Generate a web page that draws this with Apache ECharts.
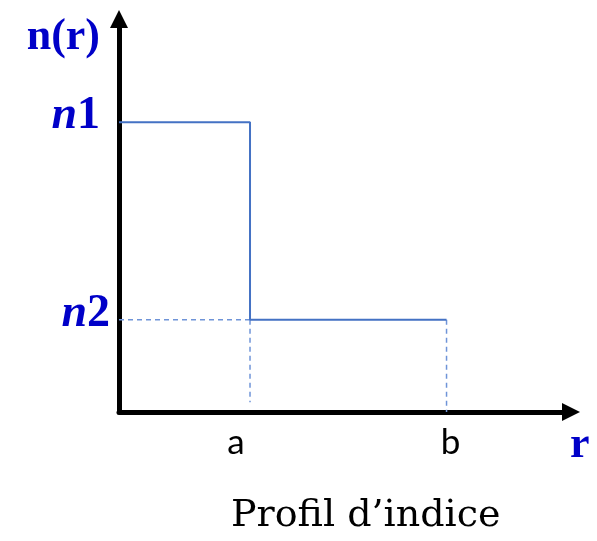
<!DOCTYPE html>
<html>
<head>
<meta charset="utf-8">
<script src="https://cdn.jsdelivr.net/npm/echarts@6/dist/echarts.min.js"></script>
<style>
  html, body { margin: 0; padding: 0; background: #fff; }
  #chart { width: 597px; height: 541px; }
</style>
</head>
<body>
<div id="chart"></div>
<script>
// positions along r (a = core radius, b = cladding radius)
const rTicks = [1, 2.5];
const rLabels = ['a', 'b'];
// index levels
const nTicks = [0.94, 2.95];
const nLabels = ['n2', 'n1'];
// step profile n(r)
const profileR = [0, 1, 1, 2.5];
const profileN = [2.95, 2.95, 0.94, 0.94];
// dashed guide lines
const guideN2R = [0, 1];
const guideN2N = [0.94, 0.94];
const guideAR = [1, 1];
const guideAN = [0.94, 0.1];
const guideBR = [2.5, 2.5];
const guideBN = [0.94, 0];

const zip = (xs, ys) => xs.map((x, i) => [x, ys[i]]);

const blue = '#0000c8';
const lineBlue = '#4472c4';
const dashBlue = '#6f94d8';

var myChart = echarts.init(document.getElementById('chart'));
var option = {
  animation: false,
  title: {
    text: 'Profil d\u2019indice',
    left: 226,
    top: 492,
    textStyle: { fontFamily: 'DejaVu Serif', fontWeight: 'normal', fontSize: 38, color: '#000' }
  },
  grid: { left: 119, right: 26, top: 19, bottom: 129 },
  xAxis: {
    type: 'value',
    min: 0,
    max: 3.45,
    name: 'r',
    nameLocation: 'end',
    nameGap: -1,
    nameTextStyle: {
      fontFamily: 'Liberation Serif', fontWeight: 'bold', fontSize: 44, color: blue,
      align: 'left', verticalAlign: 'top', padding: [12, 0, 0, 0]
    },
    axisLine: { lineStyle: { color: '#000', width: 5 }, symbol: ['none', 'triangle'], symbolSize: [18, 18] },
    axisTick: { show: false },
    splitLine: { show: false },
    axisLabel: {
      customValues: rTicks,
      margin: 13,
      formatter: function (v) {
        var i = rTicks.indexOf(v);
        return '{' + rLabels[i] + '|' + rLabels[i] + '}';
      },
      rich: {
        a: { fontFamily: 'Lato', fontSize: 35, color: '#000', padding: [0, 28, 0, 0] },
        b: { fontFamily: 'Lato', fontSize: 35, color: '#000', padding: [0, 0, 0, 8] }
      }
    }
  },
  yAxis: {
    type: 'value',
    min: 0,
    max: 4,
    name: 'n(r)',
    nameLocation: 'end',
    nameGap: -19,
    nameTextStyle: {
      fontFamily: 'Liberation Serif', fontWeight: 'bold', fontSize: 44, color: blue,
      align: 'right', verticalAlign: 'middle', padding: [0, 19, 0, 0]
    },
    axisLine: { show: true, lineStyle: { color: '#000', width: 5 }, symbol: ['none', 'triangle'], symbolSize: [18, 18] },
    axisTick: { show: false },
    splitLine: { show: false },
    axisLabel: {
      customValues: nTicks,
      margin: 9,
      formatter: function (v) {
        var i = nTicks.indexOf(v);
        var tag = i === 1 ? 'wide' : 'd';
        return '{n|n}{' + tag + '|' + nLabels[i].slice(1) + '}';
      },
      rich: {
        n: { fontFamily: 'Liberation Serif', fontStyle: 'italic', fontWeight: 'bold', fontSize: 46, color: blue, padding: [0, 0, 12, 0] },
        d: { fontFamily: 'Liberation Serif', fontWeight: 'bold', fontSize: 46, color: blue, padding: [0, 0, 12, 0] },
        wide: { fontFamily: 'Liberation Serif', fontWeight: 'bold', fontSize: 46, color: blue, padding: [0, 10, 12, 0] }
      }
    }
  },
  series: [
    {
      type: 'line',
      data: zip(guideN2R, guideN2N),
      symbol: 'none',
      lineStyle: { color: dashBlue, width: 1.5, type: [5, 4] }
    },
    {
      type: 'line',
      data: zip(guideAR, guideAN),
      symbol: 'none',
      lineStyle: { color: dashBlue, width: 1.5, type: [5, 4] }
    },
    {
      type: 'line',
      data: zip(guideBR, guideBN),
      symbol: 'none',
      lineStyle: { color: dashBlue, width: 1.5, type: [5, 4] }
    },
    {
      type: 'line',
      data: zip(profileR, profileN),
      symbol: 'none',
      z: 3,
      lineStyle: { color: lineBlue, width: 2 }
    }
  ]
};
myChart.setOption(option);
</script>
</body>
</html>
